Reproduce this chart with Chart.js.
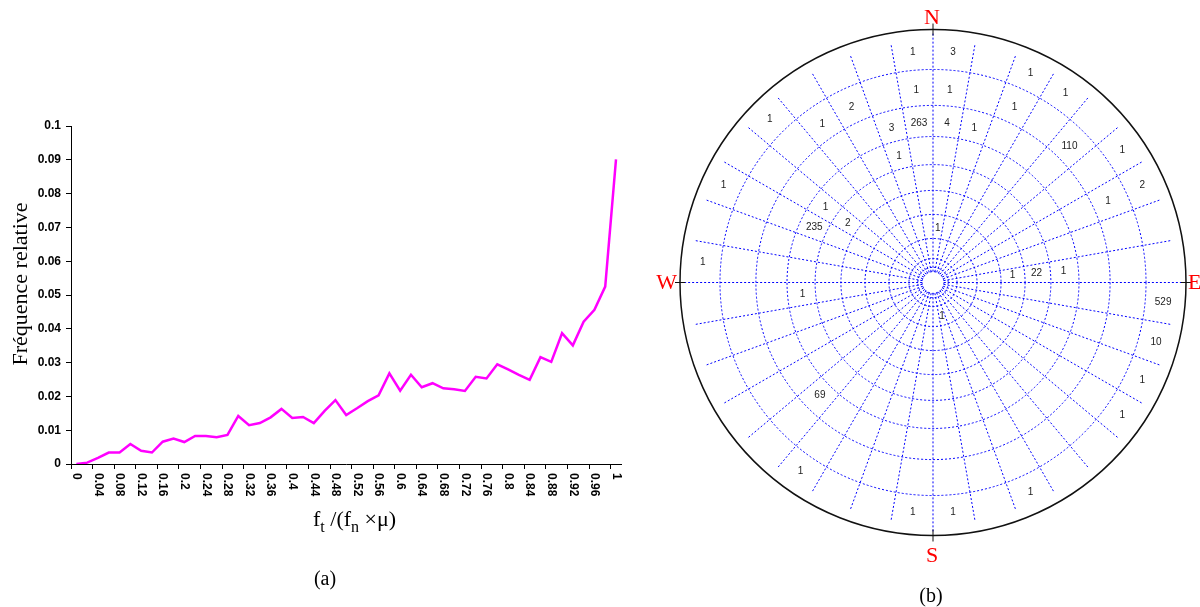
<!DOCTYPE html>
<html>
<head>
<meta charset="utf-8">
<script src="https://cdn.jsdelivr.net/npm/chart.js@4.4.0/dist/chart.umd.min.js"></script>
<style>
  body { margin: 0; background: #fff; width: 1200px; height: 607px; overflow: hidden; position: relative; }
  #graficoA { position: absolute; left: 0; top: 0; }
  #graficoB { position: absolute; left: 640px; top: 0; }
</style>
</head>
<body>
<canvas id="graficoA" width="640" height="607"></canvas>
<canvas id="graficoB" width="560" height="607"></canvas>
<script>
/* (a) fréquence relative de f_t/(f_n x mu) */
var categorias = ['0', '0.02', '0.04', '0.06', '0.08', '0.1', '0.12', '0.14', '0.16', '0.18',
    '0.2', '0.22', '0.24', '0.26', '0.28', '0.3', '0.32', '0.34', '0.36', '0.38',
    '0.4', '0.42', '0.44', '0.46', '0.48', '0.5', '0.52', '0.54', '0.56', '0.58',
    '0.6', '0.62', '0.64', '0.66', '0.68', '0.7', '0.72', '0.74', '0.76', '0.78',
    '0.8', '0.82', '0.84', '0.86', '0.88', '0.9', '0.92', '0.94', '0.96', '0.98', '1'];
var frequencias = [0, 0.0004, 0.0018, 0.0034, 0.0034, 0.0059, 0.0039, 0.0034, 0.0066, 0.0075,
    0.0065, 0.0083, 0.0083, 0.0079, 0.0086, 0.0142, 0.0115, 0.0121, 0.0138, 0.0163,
    0.0136, 0.0139, 0.0121, 0.0157, 0.0189, 0.0145, 0.0165, 0.0186, 0.0203, 0.0268,
    0.0217, 0.0264, 0.0227, 0.0239, 0.0224, 0.0221, 0.0216, 0.0258, 0.0253, 0.0295,
    0.0280, 0.0264, 0.0249, 0.0316, 0.0302, 0.0387, 0.0351, 0.0421, 0.0456, 0.0525, 0.0901];

/* (b) comptages sur le canevas: azimut (deg depuis N), position radiale (fraction du rayon), nombre */
var azimutes = [355, 355, 335, 315, 325, 345, 355, 345, 295, 305, 295, 305, 5, 275,
    5, 25, 5, 35, 25, 5, 15, 45, 55, 65, 65, 85, 85, 85, 265, 225, 215, 185,
    95, 105, 115, 125, 155, 175, 165];
var raios = [0.913, 0.763, 0.763, 0.913, 0.763, 0.632, 0.632, 0.518, 0.913, 0.518, 0.518, 0.411, 0.215, 0.913,
    0.913, 0.913, 0.763, 0.913, 0.763, 0.632, 0.632, 0.763, 0.913, 0.913, 0.763, 0.316, 0.411, 0.518, 0.518, 0.632, 0.913, 0.913,
    0.913, 0.913, 0.913, 0.913, 0.913, 0.913, 0.138];
var contagens = [1, 1, 2, 1, 1, 3, 263, 1, 1, 1, 235, 2, 1, 1,
    3, 1, 1, 1, 1, 4, 1, 110, 1, 2, 1, 1, 22, 1, 1, 69, 1, 1,
    529, 10, 1, 1, 1, 1, 1];

var serif = '"Times New Roman", "Liberation Serif", serif';
var sans = 'Arial, "Liberation Sans", sans-serif';

/* textos do grafico (a) */
var rotulosA = {
    id: 'rotulosA',
    afterDraw: function (chart) {
        var ctx = chart.ctx;
        var x = chart.scales.x;
        var area = chart.chartArea;
        ctx.save();
        ctx.fillStyle = '#000';

        // rotulos do eixo x, girados
        ctx.font = 'bold 12px ' + sans;
        ctx.textAlign = 'left';
        ctx.textBaseline = 'middle';
        categorias.forEach(function (rot, i) {
            if (i % 2 !== 0) return;
            ctx.save();
            ctx.translate(x.getPixelForValue(i), area.bottom + 9);
            ctx.rotate(Math.PI / 2);
            ctx.fillText(rot, 0, 0);
            ctx.restore();
        });

        // titulo eixo x: f_t /(f_n x mu)
        ctx.textBaseline = 'alphabetic';
        var px = 313, base = 526;
        var partes = [['f', 22, 0], ['t', 16, 6], [' /(f', 22, 0], ['n', 16, 6], [' \u00d7\u03bc)', 22, 0]];
        partes.forEach(function (p) {
            ctx.font = p[1] + 'px ' + serif;
            ctx.fillText(p[0], px, base + p[2]);
            px += ctx.measureText(p[0]).width;
        });

        // titulo eixo y
        ctx.save();
        ctx.font = '22px ' + serif;
        ctx.textAlign = 'center';
        ctx.textBaseline = 'middle';
        ctx.translate(21, 284);
        ctx.rotate(-Math.PI / 2);
        ctx.fillText('Fréquence relative', 0, 0);
        ctx.restore();

        ctx.font = '20px ' + serif;
        ctx.textAlign = 'center';
        ctx.fillText('(a)', 325, 585);
        ctx.restore();
    }
};

var ctxA = document.getElementById('graficoA').getContext('2d');
var graficoA = new Chart(ctxA, {
    type: 'line',
    data: {
        labels: categorias,
        datasets: [{
            label: 'Fréquence relative',
            data: frequencias,
            borderColor: '#ff00ff',
            borderWidth: 2.5,
            pointRadius: 0,
            tension: 0,
            fill: false
        }]
    },
    options: {
        responsive: false,
        animation: false,
        layout: { padding: { left: 0, top: 126, right: 18.6, bottom: 143 } },
        plugins: { legend: { display: false }, tooltip: { enabled: false } },
        scales: {
            x: {
                type: 'category',
                offset: true,
                grid: {
                    offset: true,
                    drawOnChartArea: false,
                    tickLength: 5,
                    color: function (c) { return c.index % 2 === 0 ? '#000' : 'rgba(0,0,0,0)'; }
                },
                border: { color: '#000', width: 1 },
                ticks: { display: false },
                afterFit: function (s) { s.height = 0; }
            },
            y: {
                min: 0,
                max: 0.1,
                ticks: {
                    stepSize: 0.01,
                    color: '#000',
                    padding: 5,
                    font: { family: sans, size: 12, weight: 'bold' },
                    callback: function (v) { return String(Math.round(v * 100) / 100); }
                },
                grid: { drawOnChartArea: false, tickLength: 5, color: '#000' },
                border: { color: '#000', width: 1 },
                afterFit: function (s) { s.width = 71; }
            }
        }
    },
    plugins: [rotulosA]
});

/* (b) canevas polaire */
var RAIO_PX = 253;
var CENTRO_X = 933 - 640, CENTRO_Y = 282.5;
var aneis = [0.842, 0.700, 0.577, 0.466, 0.364, 0.269, 0.174, 0.095, 0.06, 0.043];

function rad(g) { return g * Math.PI / 180; }

var redeB = {
    id: 'redeB',
    beforeDatasetsDraw: function (chart) {
        var ctx = chart.ctx;
        var xs = chart.scales.x, ys = chart.scales.y;
        var cx = xs.getPixelForValue(0), cy = ys.getPixelForValue(0);
        var esc = xs.getPixelForValue(1) - cx;
        function pt(az, r) {
            return { x: xs.getPixelForValue(r * Math.sin(rad(az))), y: ys.getPixelForValue(r * Math.cos(rad(az))) };
        }
        ctx.save();
        ctx.strokeStyle = '#0000ff';
        ctx.lineWidth = 1;
        ctx.setLineDash([2, 2]);

        // aneis
        aneis.forEach(function (r) {
            ctx.beginPath();
            ctx.arc(cx, cy, r * esc, 0, Math.PI * 2);
            ctx.stroke();
        });

        // linhas radiais a cada 10 graus
        for (var az = 0; az < 360; az += 10) {
            var fim = (az % 90 === 0) ? 0.99 : 0.953;
            var a = pt(az, 0.043), b = pt(az, fim);
            ctx.beginPath();
            ctx.moveTo(a.x, a.y);
            ctx.lineTo(b.x, b.y);
            ctx.stroke();
        }

        // furo central
        ctx.setLineDash([]);
        ctx.fillStyle = '#fff';
        ctx.beginPath();
        ctx.arc(cx, cy, 0.036 * esc, 0, Math.PI * 2);
        ctx.fill();

        // circulo externo
        ctx.strokeStyle = '#111';
        ctx.lineWidth = 1.5;
        ctx.beginPath();
        ctx.arc(cx, cy, esc, 0, Math.PI * 2);
        ctx.stroke();

        // marcas N S E W
        ctx.lineWidth = 1;
        ctx.beginPath();
        ctx.moveTo(cx, cy - esc - 6); ctx.lineTo(cx, cy - esc + 6);
        ctx.moveTo(cx, cy + esc - 6); ctx.lineTo(cx, cy + esc + 6);
        ctx.moveTo(cx - esc - 5, cy); ctx.lineTo(cx - esc + 5, cy);
        ctx.moveTo(cx + esc - 5, cy); ctx.lineTo(cx + esc + 5, cy);
        ctx.stroke();

        ctx.fillStyle = '#ff0000';
        ctx.font = '22px ' + serif;
        ctx.textAlign = 'center';
        ctx.textBaseline = 'alphabetic';
        ctx.fillText('N', cx - 1, cy - esc - 6);
        ctx.fillText('S', cx - 1, cy + esc + 26);
        ctx.textBaseline = 'middle';
        ctx.textAlign = 'right';
        ctx.fillText('W', cx - esc - 3, cy + 1);
        ctx.textAlign = 'left';
        ctx.fillText('E', cx + esc + 2, cy + 1);

        ctx.fillStyle = '#000';
        ctx.font = '20px ' + serif;
        ctx.textAlign = 'center';
        ctx.textBaseline = 'alphabetic';
        ctx.fillText('(b)', cx - 2, 602);
        ctx.restore();
    },
    afterDatasetsDraw: function (chart) {
        var ctx = chart.ctx;
        var meta = chart.getDatasetMeta(0);
        ctx.save();
        ctx.fillStyle = '#222';
        ctx.font = '10px ' + sans;
        ctx.textAlign = 'center';
        ctx.textBaseline = 'middle';
        meta.data.forEach(function (el, i) {
            ctx.fillText(String(contagens[i]), el.x, el.y);
        });
        ctx.restore();
    }
};

var pontosB = azimutes.map(function (az, i) {
    return { x: raios[i] * Math.sin(rad(az)), y: raios[i] * Math.cos(rad(az)) };
});

var ctxB = document.getElementById('graficoB').getContext('2d');
var graficoB = new Chart(ctxB, {
    type: 'scatter',
    data: {
        datasets: [{
            label: 'Comptages',
            data: pontosB,
            pointRadius: 0,
            pointHoverRadius: 0
        }]
    },
    options: {
        responsive: false,
        animation: false,
        layout: { padding: 0 },
        plugins: { legend: { display: false }, tooltip: { enabled: false } },
        scales: {
            x: { type: 'linear', display: false, min: -CENTRO_X / RAIO_PX, max: (560 - CENTRO_X) / RAIO_PX },
            y: { type: 'linear', display: false, min: -(607 - CENTRO_Y) / RAIO_PX, max: CENTRO_Y / RAIO_PX }
        }
    },
    plugins: [redeB]
});
</script>
</body>
</html>
